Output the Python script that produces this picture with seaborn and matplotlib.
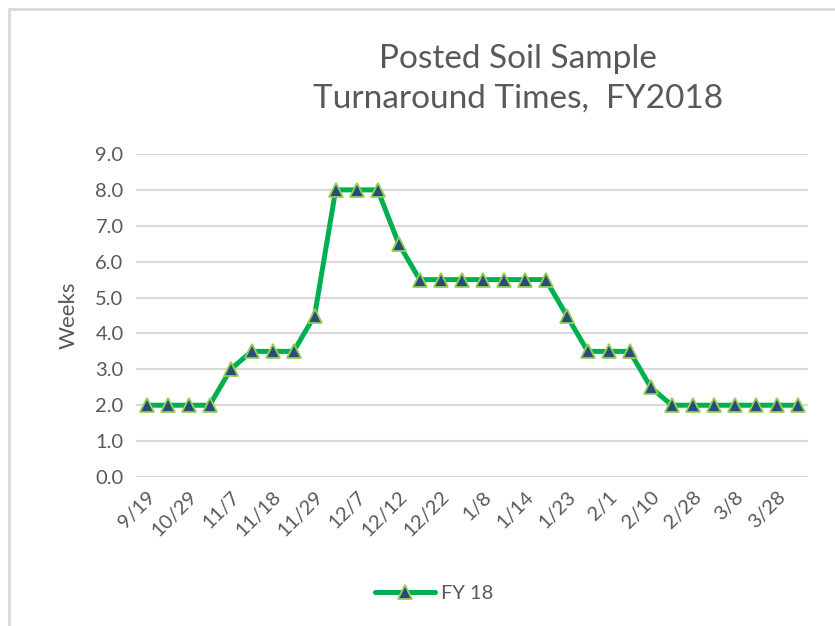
import numpy as np
import pandas as pd
import matplotlib
matplotlib.use("Agg")
import matplotlib.pyplot as plt
from matplotlib.lines import Line2D
import seaborn as sns

# weekly posted turnaround (weeks), one point per posting
weeks = [2.0, 2.0, 2.0, 2.0, 3.0, 3.5, 3.5, 3.5, 4.5, 8.0, 8.0, 8.0, 6.5, 5.5, 5.5, 5.5,
         5.5, 5.5, 5.5, 5.5, 4.5, 3.5, 3.5, 3.5, 2.5, 2.0, 2.0, 2.0, 2.0, 2.0, 2.0, 2.0]
# only every other posting date is labelled on the axis
date_labels = ['9/19', '10/29', '11/7', '11/18', '11/29', '12/7', '12/12', '12/22',
               '1/8', '1/14', '1/23', '2/1', '2/10', '2/28', '3/8', '3/28']
y_ticks = [0, 1, 2, 3, 4, 5, 6, 7, 8, 9]
series_name = 'FY 18'

df = pd.DataFrame({'pos': np.arange(len(weeks)), 'weeks': weeks, 'series': series_name})

sns.set_theme(style='white')
plt.rcParams['font.family'] = ['Lato', 'DejaVu Sans']

text_col = '#595959'
grid_col = '#D9D9D9'
line_col = '#00B050'
face_col = '#2B4A7E'
edge_col = '#92D050'

fig = plt.figure(figsize=(8.35, 6.26), dpi=100)
ax = fig.add_axes([0.163, 0.238, 0.805, 0.516])

sns.lineplot(data=df, x='pos', y='weeks', ax=ax, color=line_col, linewidth=3.6,
             marker='^', markersize=10, markerfacecolor=face_col,
             markeredgecolor=edge_col, markeredgewidth=1.3, legend=False)

ax.set_xlim(-0.5, len(weeks) - 0.5)
ax.set_ylim(0, 9)
ax.set_yticks(y_ticks)
ax.set_yticklabels([f'{v:.1f}' for v in y_ticks], color=text_col, fontsize=14.5)
ax.set_xticks(np.arange(0, len(weeks), 2))
ax.set_xticklabels(date_labels, rotation=45, ha='right', rotation_mode='anchor',
                   color=text_col, fontsize=14.5)
ax.tick_params(axis='both', length=0, pad=9)
ax.tick_params(axis='x', pad=8)

ax.yaxis.grid(True, color=grid_col, linewidth=1.5)
ax.set_axisbelow(True)
for s in ax.spines.values():
    s.set_visible(False)

ax.set_xlabel('')
ax.set_ylabel('Weeks', color=text_col, fontsize=16, labelpad=12)

fig.text(0.62, 0.874, 'Posted Soil Sample\nTurnaround Times,  FY2018', ha='center',
         va='center', color=text_col, fontsize=24, linespacing=1.42)

handle = Line2D([], [], color=line_col, linewidth=3.6, marker='^', markersize=10,
                markerfacecolor=face_col, markeredgecolor=edge_col, markeredgewidth=1.3)
fig.legend([handle], [series_name], loc='center', bbox_to_anchor=(0.52, 0.052),
           frameon=False, fontsize=14.5, labelcolor=text_col, handlelength=3.0,
           handletextpad=0.3)

# chart-area border (left and top edges only visible)
fig.add_artist(Line2D([0.0105, 0.0105], [0, 0.985], color=grid_col, linewidth=2,
                      transform=fig.transFigure))
fig.add_artist(Line2D([0.0105, 1.0], [0.985, 0.985], color=grid_col, linewidth=2,
                      transform=fig.transFigure))

fig.savefig('out.png', dpi=100, facecolor='white')
